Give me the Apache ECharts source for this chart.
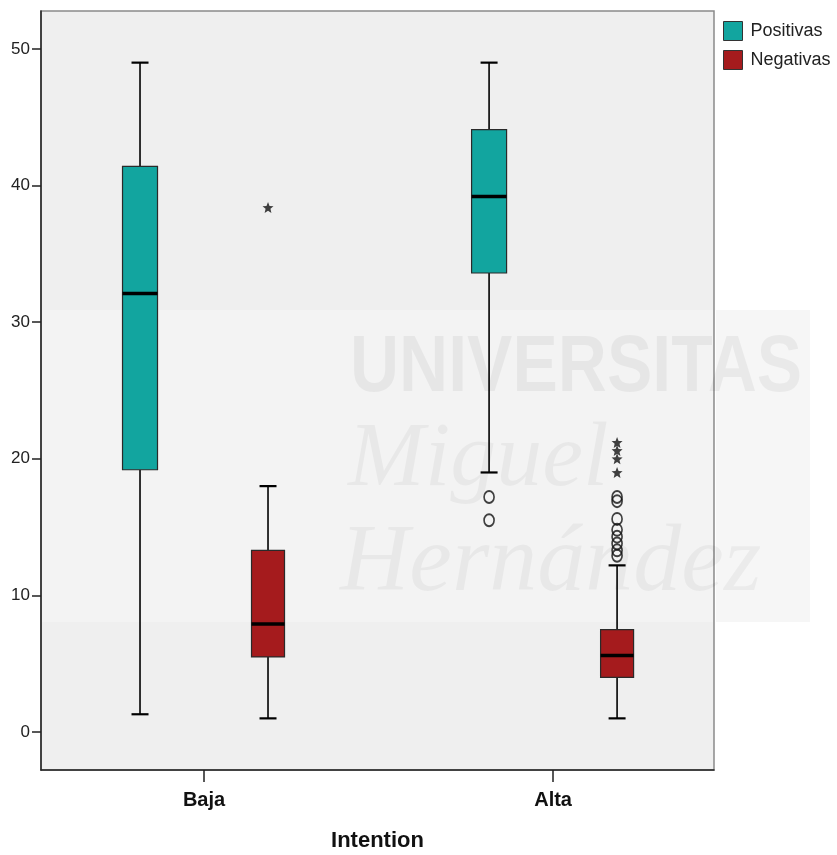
<!DOCTYPE html>
<html>
<head>
<meta charset="utf-8">
<script src="https://cdn.jsdelivr.net/npm/echarts@6/dist/echarts.min.js"></script>
<style>
  html, body { margin: 0; padding: 0; background: #ffffff; }
  #chart { width: 837px; height: 855px; }
</style>
</head>
<body>
<div id="chart"></div>
<script>
// ---- data ----
const categories = ['Baja', 'Alta'];
const seriesNames = ['Positivas', 'Negativas'];
const yTicks = [0, 10, 20, 30, 40, 50];
// [min, Q1, median, Q3, max] per category
const positivasStats = [
  [1.3, 19.2, 32.1, 41.4, 49.0],
  [19.0, 33.6, 39.2, 44.1, 49.0]
];
const negativasStats = [
  [1.0, 5.5, 7.9, 13.3, 18.0],
  [1.0, 4.0, 5.6, 7.5, 12.2]
];
// outliers: [category index, value]
const positivasOutliers = [[1, 17.2], [1, 15.5]];
const negativasOutliers = [[1, 17.2], [1, 16.9], [1, 15.6], [1, 14.8], [1, 14.3], [1, 13.8], [1, 13.3], [1, 12.9]];
const negativasExtremes = [[0, 38.4], [1, 21.2], [1, 20.6], [1, 20.0], [1, 19.0]];

// ---- styles ----
const TEAL = '#12a59f';
const RED = '#a51b1d';
const GROUP_OFFSET = 64;
const STAR = 'path://M0,-10 L2.6,-3.4 9.51,-3.09 4.2,1.3 5.88,8.09 0,4.4 -5.88,8.09 -4.2,1.3 -9.51,-3.09 -2.6,-3.4Z';

function renderBox(offset, boxW, capW, fill) {
  return function (params, api) {
    const x = api.value(0);
    const pMin = api.coord([x, api.value(1)]);
    const pQ1 = api.coord([x, api.value(2)]);
    const pMed = api.coord([x, api.value(3)]);
    const pQ3 = api.coord([x, api.value(4)]);
    const pMax = api.coord([x, api.value(5)]);
    const cx = pMin[0] + offset;
    const line = (x1, y1, x2, y2, w) => ({
      type: 'line', shape: { x1, y1, x2, y2 }, style: { stroke: '#000', lineWidth: w }
    });
    return {
      type: 'group',
      children: [
        line(cx, pMax[1], cx, pQ3[1], 1.6),
        line(cx, pQ1[1], cx, pMin[1], 1.6),
        line(cx - capW / 2, pMax[1], cx + capW / 2, pMax[1], 2.2),
        line(cx - capW / 2, pMin[1], cx + capW / 2, pMin[1], 2.2),
        {
          type: 'rect',
          shape: { x: cx - boxW / 2, y: pQ3[1], width: boxW, height: pQ1[1] - pQ3[1] },
          style: { fill: fill, stroke: '#2a2a2a', lineWidth: 1.2 }
        },
        line(cx - boxW / 2, pMed[1], cx + boxW / 2, pMed[1], 3.5)
      ]
    };
  };
}

const chart = echarts.init(document.getElementById('chart'), null, { renderer: 'canvas' });

const option = {
  backgroundColor: '#ffffff',
  animation: false,
  grid: {
    left: 41, top: 11, right: 123, bottom: 85,
    show: true, backgroundColor: '#efefef', borderColor: '#8a8a8a', borderWidth: 1.5,
    containLabel: false, outerBoundsMode: 'none'
  },
  legend: {
    data: seriesNames,
    orient: 'vertical',
    left: 718, top: 16,
    icon: 'rect',
    itemWidth: 19, itemHeight: 19, itemGap: 9,
    itemStyle: { borderColor: '#333', borderWidth: 1 },
    textStyle: { fontFamily: 'Liberation Sans', fontSize: 18, color: '#222', padding: [0, 0, 0, 3] }
  },
  graphic: {
    elements: [
      {
        type: 'rect', z: 1, silent: true,
        shape: { x: 42, y: 310, width: 671, height: 312 },
        style: { fill: 'rgba(246,246,246,0.55)' }
      },
      {
        type: 'rect', z: 1, silent: true,
        shape: { x: 716, y: 310, width: 94, height: 312 },
        style: { fill: 'rgba(0,0,0,0.035)' }
      },
      {
        type: 'text', z: 1, silent: true,
        x: 350, y: 369, scaleX: 0.85,
        style: {
          text: 'UNIVERSITAS', x: 0, y: 0, verticalAlign: 'middle',
          font: 'bold 80px "Liberation Sans", sans-serif',
          fill: 'rgba(0,0,0,0.05)'
        }
      },
      {
        type: 'text', z: 1, silent: true,
        style: {
          text: 'Miguel', x: 348, y: 461, verticalAlign: 'middle',
          font: 'italic 92px "Liberation Serif", serif',
          fill: 'rgba(0,0,0,0.045)'
        }
      },
      {
        type: 'text', z: 1, silent: true,
        style: {
          text: 'Hernández', x: 340, y: 565, verticalAlign: 'middle',
          font: 'italic 96px "Liberation Serif", serif',
          fill: 'rgba(0,0,0,0.045)'
        }
      }
    ]
  },
  xAxis: {
    type: 'value',
    z: 6,
    min: -0.467, max: 1.461,
    name: 'Intention',
    nameLocation: 'middle',
    nameGap: 60,
    nameTextStyle: { fontFamily: 'Liberation Sans', fontSize: 22, fontWeight: 'bold', color: '#111' },
    axisLine: { show: true, onZero: false, lineStyle: { color: '#222', width: 1.5 } },
    axisTick: { show: true, length: 12, customValues: categories.map((c, i) => i), lineStyle: { color: '#222', width: 1.5 } },
    axisLabel: {
      customValues: categories.map((c, i) => i),
      formatter: v => categories[Math.round(v)],
      margin: 20,
      fontFamily: 'Liberation Sans', fontSize: 20, fontWeight: 'bold', color: '#111'
    },
    splitLine: { show: false }
  },
  yAxis: {
    type: 'value',
    z: 6,
    min: -2.78, max: 52.78,
    axisLine: { show: true, onZero: false, lineStyle: { color: '#222', width: 1.5 } },
    axisTick: { show: true, length: 9, customValues: yTicks, lineStyle: { color: '#222', width: 1.5 } },
    axisLabel: {
      customValues: yTicks,
      margin: 11,
      fontFamily: 'Liberation Sans',
      fontSize: 17, color: '#222'
    },
    splitLine: { show: false }
  },
  series: [
    {
      name: seriesNames[0],
      type: 'custom',
      z: 3,
      itemStyle: { color: TEAL },
      encode: { x: 0, y: [1, 2, 3, 4, 5] },
      renderItem: renderBox(-GROUP_OFFSET, 35, 17, TEAL),
      data: positivasStats.map((s, i) => [i].concat(s))
    },
    {
      name: seriesNames[1],
      type: 'custom',
      z: 3,
      itemStyle: { color: RED },
      encode: { x: 0, y: [1, 2, 3, 4, 5] },
      renderItem: renderBox(GROUP_OFFSET, 33, 17, RED),
      data: negativasStats.map((s, i) => [i].concat(s))
    },
    {
      name: 'Positivas outliers',
      type: 'scatter',
      z: 4,
      symbol: 'circle',
      symbolSize: [10, 12],
      symbolOffset: [-GROUP_OFFSET, 0],
      itemStyle: { color: 'rgba(0,0,0,0)', borderColor: '#111', borderWidth: 1.8 },
      data: positivasOutliers
    },
    {
      name: 'Negativas outliers',
      type: 'scatter',
      z: 4,
      symbol: 'circle',
      symbolSize: [10, 12],
      symbolOffset: [GROUP_OFFSET, 0],
      itemStyle: { color: 'rgba(0,0,0,0)', borderColor: '#111', borderWidth: 1.8 },
      data: negativasOutliers
    },
    {
      name: 'Negativas extremes',
      type: 'scatter',
      z: 4,
      symbol: STAR,
      symbolSize: 11,
      symbolOffset: [GROUP_OFFSET, 0],
      itemStyle: { color: '#111' },
      data: negativasExtremes
    }
  ]
};

chart.setOption(option);
</script>
</body>
</html>
